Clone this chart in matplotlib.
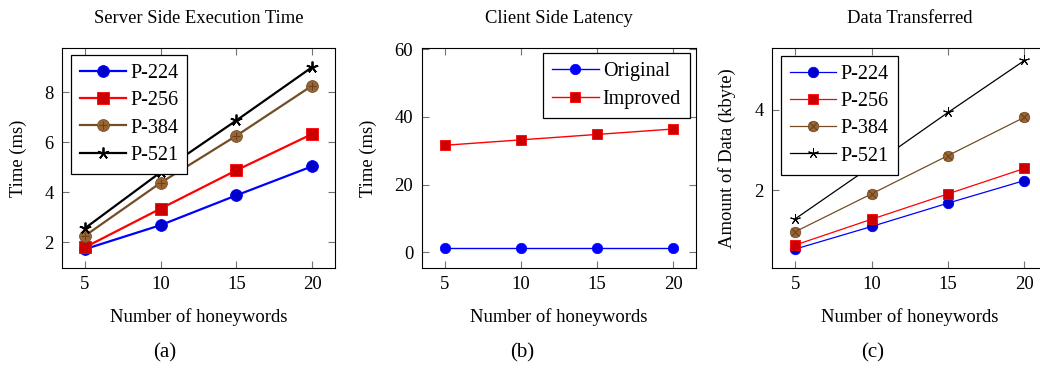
import numpy as np
import matplotlib
matplotlib.use('Agg')
from matplotlib import pyplot as plt

plt.rcParams['font.family'] = ['Liberation Serif', 'DejaVu Serif']
plt.rcParams['font.size'] = 13.4

# ---------------------------------------------------------------- data
honeywords = [5, 10, 15, 20]

# (a) server side execution time (ms)
exec_p224 = [1.73, 2.69, 3.88, 5.04]
exec_p256 = [1.80, 3.35, 4.88, 6.33]
exec_p384 = [2.26, 4.38, 6.26, 8.26]
exec_p521 = [2.56, 4.80, 6.87, 9.00]

# (b) client side latency (ms)
lat_original = [1.2, 1.2, 1.2, 1.2]
lat_improved = [31.6, 33.2, 34.8, 36.4]

# (c) data transferred (kbyte)
data_p224 = [0.54, 1.10, 1.68, 2.24]
data_p256 = [0.64, 1.28, 1.91, 2.54]
data_p384 = [0.97, 1.91, 2.86, 3.81]
data_p521 = [1.29, 2.60, 3.93, 5.22]

curve_names = ['P-224', 'P-256', 'P-384', 'P-521']

# pgfplots default colour cycle
BLUE, BLUE_F = (0, 0, 1), (0, 0, 0.8)
RED, RED_F = (1, 0, 0), (0.8, 0, 0)
BROWN, BROWN_F, BROWN_X = (0.45, 0.30, 0.15), (0.6, 0.4, 0.2), (0.42, 0.26, 0.12)
BLACK = (0, 0, 0)

FS = 13.4
W, H = 1040, 374
fig = plt.figure(figsize=(W / 100, H / 100), dpi=100)


def make_axes(left_px, width_px):
    ax = fig.add_axes([left_px / W, (H - 268) / H, width_px / W, 220 / H])
    ax.tick_params(direction='in', top=True, right=True, length=5,
                   width=0.8, color='0.45', pad=6, labelsize=FS)
    for s in ax.spines.values():
        s.set_linewidth(0.8)
    ax.set_xticks(honeywords)
    ax.set_xlim(3.5, 21.5)
    return ax


def style_labels(ax, title, ylabel, ylab_x):
    ax.text(0.5, 1.136, title, transform=ax.transAxes, ha='center',
            va='center', fontsize=FS)
    ax.set_xlabel('Number of honeywords', fontsize=FS)
    ax.xaxis.set_label_coords(0.5, -0.223)
    ax.xaxis.label.set_va('center')
    ax.set_ylabel(ylabel, fontsize=FS)
    ax.yaxis.set_label_coords(ylab_x, 0.5)
    ax.yaxis.label.set_va('center')


def curve_set(ax, series, lw, ms, cross):
    h = []
    h.append(ax.plot(honeywords, series[0], color=BLUE, lw=lw, marker='o',
                     ms=ms, mfc=BLUE_F, mec=BLUE, mew=0.6)[0])
    h.append(ax.plot(honeywords, series[1], color=RED, lw=lw, marker='s',
                     ms=ms, mfc=RED_F, mec=RED, mew=0.6)[0])
    l3 = ax.plot(honeywords, series[2], color=BROWN, lw=lw, marker='o',
                 ms=ms, mfc=BROWN_F, mec=BROWN, mew=0.6)[0]
    x3 = ax.plot(honeywords, series[2], ls='none', marker=cross,
                 ms=ms * 0.7, mec=BROWN_X, mew=0.8)[0]
    h.append((l3, x3))
    h.append(ax.plot(honeywords, series[3], color=BLACK, lw=lw,
                     marker=(5, 2, 0), ms=ms, mec=BLACK, mew=lw * 0.8)[0])
    return h


leg_kw = dict(frameon=True, fancybox=False, edgecolor='black', framealpha=1,
              handlelength=2.3, handletextpad=0.2, labelspacing=0.4,
              borderpad=0.45, borderaxespad=0, fontsize=14.5)

# ---------------------------------------------------------------- (a)
ax1 = make_axes(62, 273)
hs = curve_set(ax1, [exec_p224, exec_p256, exec_p384, exec_p521], 1.6, 8.5, '+')
ax1.set_ylim(0.98, 9.76)
ax1.set_yticks([2, 4, 6, 8])
style_labels(ax1, 'Server Side Execution Time', 'Time (ms)', -0.16)
lg = ax1.legend(hs, curve_names, loc='upper left',
                bbox_to_anchor=(0.032, 0.968), **leg_kw)
lg.get_frame().set_linewidth(0.9)

# ---------------------------------------------------------------- (b)
ax2 = make_axes(421.7, 274.3)
h1 = ax2.plot(honeywords, lat_original, color=BLUE, lw=1.0, marker='o',
              ms=7.5, mfc=BLUE, mec=BLUE, mew=0.5)[0]
h2 = ax2.plot(honeywords, lat_improved, color=RED, lw=1.0, marker='s',
              ms=7.5, mfc=RED_F, mec=RED, mew=0.6)[0]
ax2.set_ylim(-4.6, 60.3)
ax2.set_yticks([0, 20, 40, 60])
style_labels(ax2, 'Client Side Latency', 'Time (ms)', -0.195)
lg = ax2.legend([h1, h2], ['Original', 'Improved'], loc='upper right',
                bbox_to_anchor=(0.978, 0.976), **leg_kw)
lg.get_frame().set_linewidth(0.9)

# ---------------------------------------------------------------- (c)
ax3 = make_axes(772.3, 275)
hs = curve_set(ax3, [data_p224, data_p256, data_p384, data_p521], 0.9, 7.5, 'x')
ax3.set_ylim(0.07, 5.53)
ax3.set_yticks([2, 4])
style_labels(ax3, 'Data Transferred', 'Amount of Data (kbyte)', -0.165)
lg = ax3.legend(hs, curve_names, loc='upper left',
                bbox_to_anchor=(0.032, 0.964), **leg_kw)
lg.get_frame().set_linewidth(0.9)

# sub-figure captions
for xp, cap in [(165, '(a)'), (522, '(b)'), (873, '(c)')]:
    fig.text(xp / W, 1 - 353 / H, cap, ha='center', va='center', fontsize=15)

fig.savefig('out.png', dpi=100)
